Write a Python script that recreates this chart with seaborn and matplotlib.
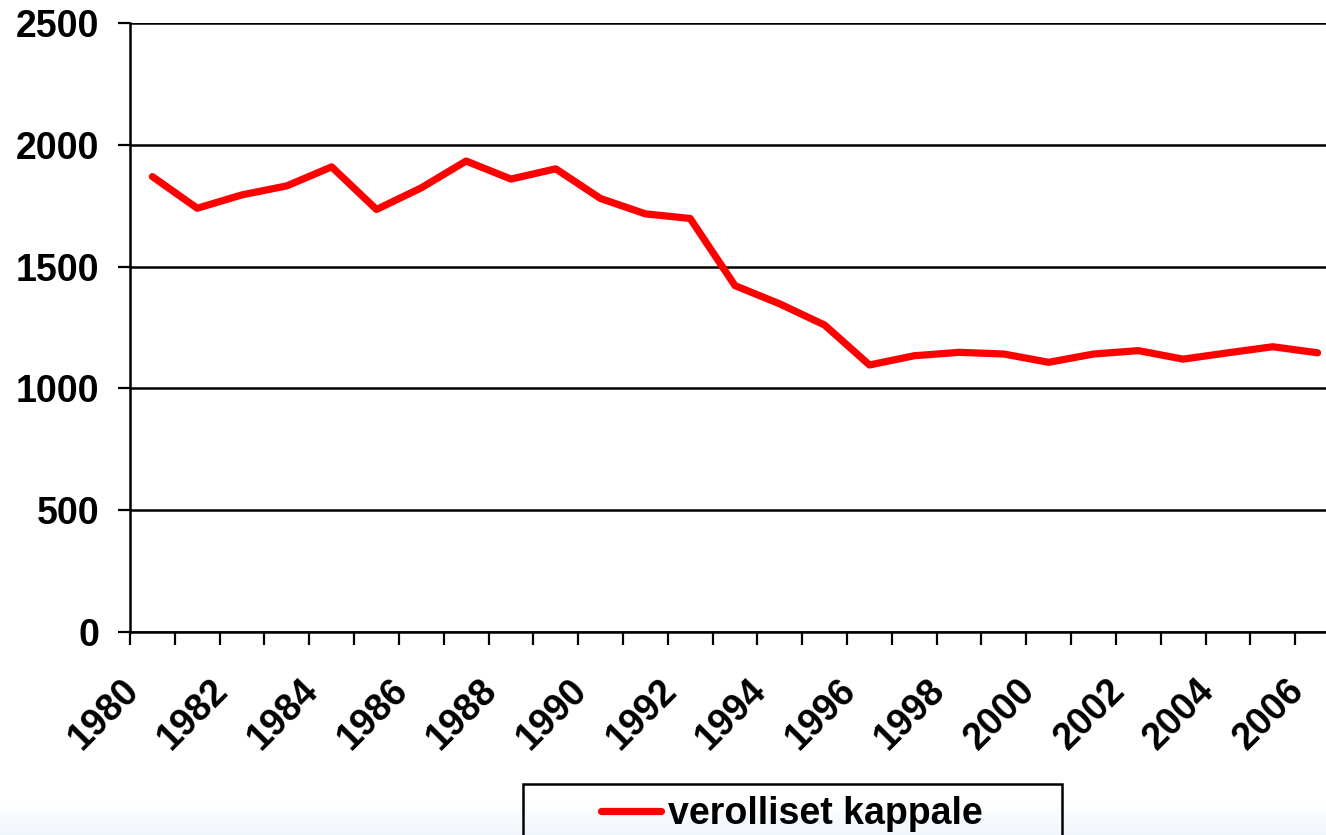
import numpy as np
import pandas as pd
import seaborn as sns
import matplotlib.pyplot as plt
from matplotlib.patches import Rectangle
from matplotlib.transforms import ScaledTranslation
from matplotlib.ticker import MultipleLocator, FixedLocator

# data
years = list(range(1980, 2007))
kappale = [1870, 1740, 1795, 1832, 1910, 1735, 1824, 1934, 1860, 1902,
           1780, 1717, 1698, 1422, 1347, 1260, 1096, 1134, 1148, 1141,
           1107, 1141, 1155, 1120, 1146, 1171, 1146]
series_name = 'verolliset kappale'
y_ticks = [0, 500, 1000, 1500, 2000, 2500]
x_labels = list(range(1980, 2007, 2))

df = pd.DataFrame({'vuosi': years, 'kappale': kappale, 'sarja': series_name})

sns.set_style('white')
plt.rcParams['font.family'] = ['Liberation Sans', 'DejaVu Sans']
plt.rcParams['font.weight'] = 'bold'
plt.rcParams['text.color'] = 'black'
plt.rcParams['xtick.color'] = 'black'
plt.rcParams['ytick.color'] = 'black'

W, H = 1326, 835
fig = plt.figure(figsize=(W / 100, H / 100), dpi=100)

# faint blue gradient at the bottom of the slide
bg = fig.add_axes([0, 0, 1, 1], zorder=-10)
grad = np.ones((H, 1, 3))
start = 800
for i in range(start, H):
    t = (i - start) / (H - start)
    grad[i, 0] = (1 - 0.06 * t, 1 - 0.035 * t, 1 - 0.015 * t)
bg.imshow(grad, aspect='auto', extent=[0, 1, 0, 1])
bg.axis('off')

left, right, bottom, top = 130, 1340, 631.7, 23.3
ax = fig.add_axes([left / W, (H - bottom) / H, (right - left) / W, (bottom - top) / H])
ax.patch.set_alpha(0)

sns.lineplot(data=df, x='vuosi', y='kappale', hue='sarja', palette=['#ff0000'],
             linewidth=5.2, ax=ax)

ax.set_xlim(1979.5, 2006.5)
ax.set_ylim(0, 2500)
ax.set_yticks(y_ticks)
ax.yaxis.grid(True, color='black', linewidth=1.8)
ax.set_axisbelow(True)

ax.xaxis.set_major_locator(FixedLocator(x_labels))
ax.xaxis.set_minor_locator(MultipleLocator(1, offset=0.5))
ax.tick_params(axis='x', which='major', length=0, pad=29, labelsize=27)
ax.tick_params(axis='x', which='minor', direction='out', length=9, width=1.6,
               color='black', bottom=True)
ax.tick_params(axis='y', direction='out', length=9, width=1.6, color='black',
               left=True, pad=13, labelsize=27)
for lab in ax.get_xticklabels():
    lab.set_rotation(45)
    lab.set_ha('right')
    lab.set_va('top')
    lab.set_rotation_mode('anchor')
    lab.set_transform(lab.get_transform() + ScaledTranslation(-0.32, 0, fig.dpi_scale_trans))
for lab in ax.get_xticklabels() + ax.get_yticklabels():
    lab.set_fontweight('bold')

ax.set_xlabel('')
ax.set_ylabel('')
for side in ['top', 'right']:
    ax.spines[side].set_visible(False)
for side in ['left', 'bottom']:
    ax.spines[side].set_color('black')
    ax.spines[side].set_linewidth(1.8)

# legend without its own frame; the wide Excel-style box is drawn separately
leg = ax.legend(loc='center left', bbox_to_anchor=(601 / W, 1 - 814 / H),
                bbox_transform=fig.transFigure, frameon=False,
                prop={'size': 27, 'weight': 'bold'}, handlelength=1.6,
                handletextpad=0.2, borderpad=0, borderaxespad=0)
for h in leg.get_lines():
    h.set_linewidth(5.2)
fig.patches.append(Rectangle((523 / W, -0.05), (1062 - 523) / W, (0.05 + 1 - 784 / H),
                             transform=fig.transFigure, fill=False,
                             edgecolor='black', linewidth=1.8))

fig.savefig('out.png', dpi=100)
